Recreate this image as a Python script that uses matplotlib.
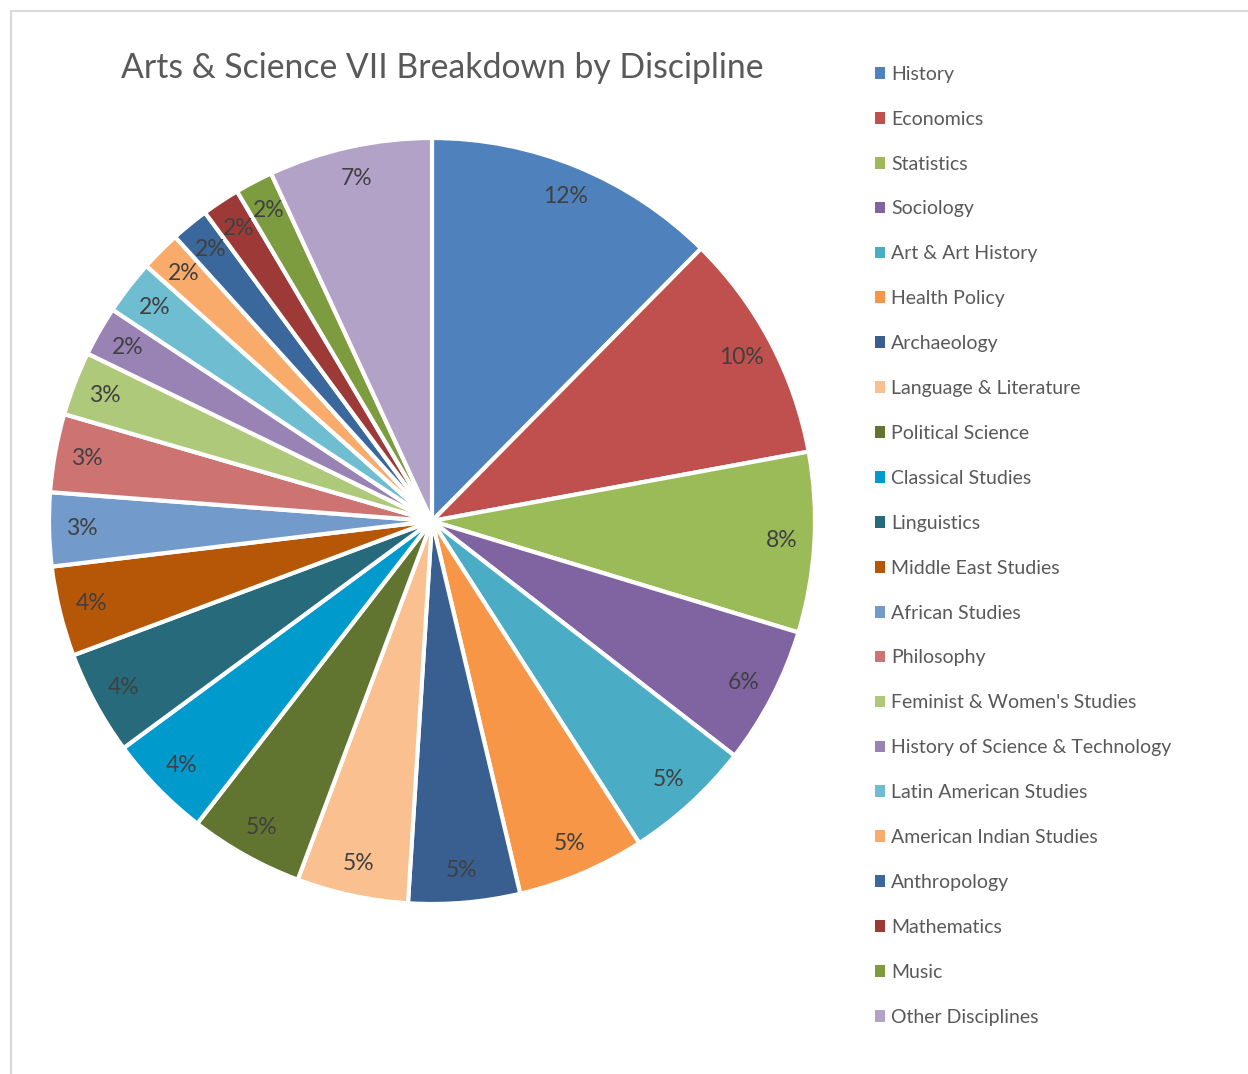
import matplotlib.pyplot as plt
from matplotlib.lines import Line2D
import matplotlib.patches as mpatches

plt.rcParams['font.family'] = ['Lato', 'DejaVu Sans']

# share of students per discipline (percent)
disciplines = ['History', 'Economics', 'Statistics', 'Sociology', 'Art & Art History',
               'Health Policy', 'Archaeology', 'Language & Literature', 'Political Science',
               'Classical Studies', 'Linguistics', 'Middle East Studies', 'African Studies',
               'Philosophy', "Feminist & Women's Studies", 'History of Science & Technology',
               'Latin American Studies', 'American Indian Studies', 'Anthropology',
               'Mathematics', 'Music', 'Other Disciplines']
shares = [12.4, 9.7, 7.6, 5.8, 5.4, 5.4, 4.7, 4.7, 4.8, 4.4, 4.4, 3.8, 3.1, 3.3,
          2.7, 2.1, 2.3, 1.7, 1.6, 1.6, 1.6, 6.9]
colors = ['#4F81BD', '#C0504D', '#9BBB59', '#8064A2', '#4BACC6', '#F79646',
          '#385F90', '#FAC090', '#617530', '#009ACD', '#276A7C', '#B65708',
          '#729ACA', '#CD7371', '#AFC97A', '#9983B5', '#6FBDD1', '#F9AB6B',
          '#3A679C', '#9D3A38', '#7D9C40', '#B3A2C7']

W, H = 1248, 1074
fig = plt.figure(figsize=(W / 100, H / 100), dpi=100)

cx, cy, r = 432, 521, 383
ax = fig.add_axes([(cx - r) / W, (H - cy - r) / H, 2 * r / W, 2 * r / H])
wedges, texts, autotexts = ax.pie(shares, colors=colors, startangle=90, counterclock=False,
                                  autopct='%1.0f%%', pctdistance=0.915, radius=1,
                                  wedgeprops=dict(edgecolor='white', linewidth=3))
for t in autotexts:
    t.set_color('#404040')
    t.set_fontsize(16.5)
ax.set_xlim(-1, 1)
ax.set_ylim(-1, 1)
ax.set_aspect('equal')
ax.axis('off')

fig.text(442 / W, 1 - 68 / H, 'Arts & Science VII Breakdown by Discipline',
         ha='center', va='center', fontsize=24.3, color='#595959')

handles = [mpatches.Patch(facecolor=c, edgecolor='none') for c in colors]
leg = fig.legend(handles, disciplines, loc='upper left', bbox_to_anchor=(865 / W, 1 - 56 / H),
                 frameon=False, fontsize=14, handlelength=0.55, handleheight=0.55,
                 handletextpad=0.3, labelspacing=1.435, borderpad=0)
for t in leg.get_texts():
    t.set_color('#595959')

# chart border (only top and left edges are visible)
fig.add_artist(Line2D([11 / W, 1], [1 - 11 / H, 1 - 11 / H], color='#D9D9D9', lw=1.5))
fig.add_artist(Line2D([11 / W, 11 / W], [0, 1 - 11 / H], color='#D9D9D9', lw=1.5))

fig.savefig('out.png', dpi=100, facecolor='white')
